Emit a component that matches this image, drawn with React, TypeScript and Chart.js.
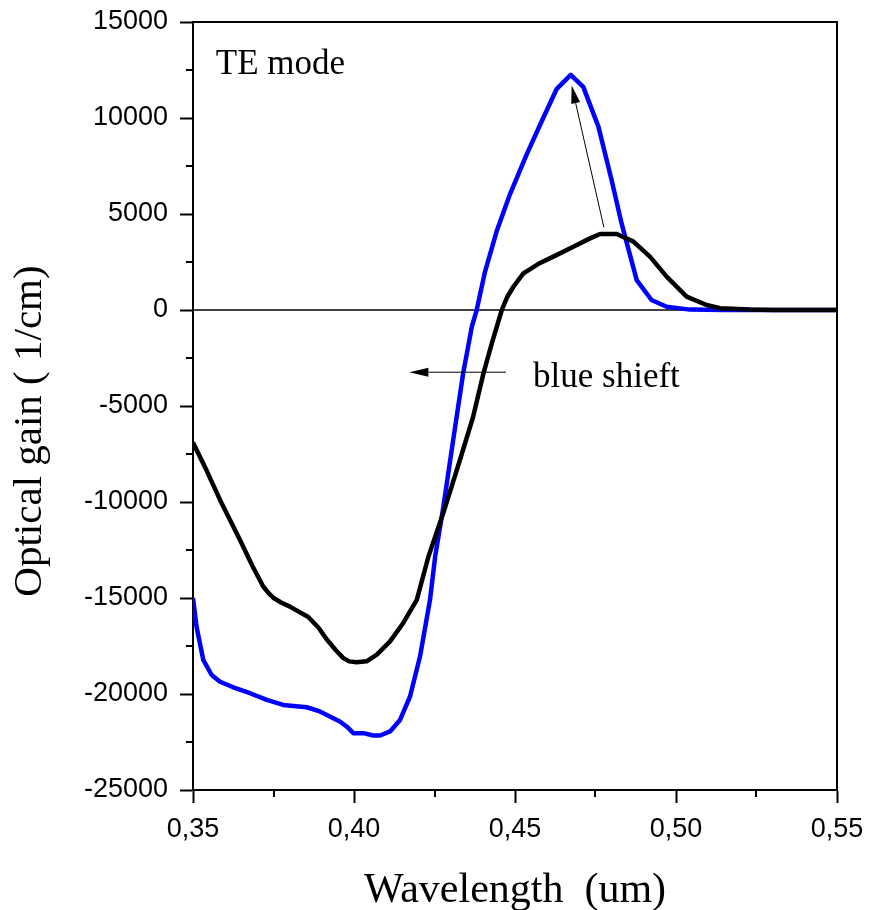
import React, { useEffect, useRef } from "react";
import { Chart, registerables } from "chart.js";

Chart.register(...registerables);

// ---- data ----
const blackX = [
  0.35, 0.3542, 0.3584, 0.3646, 0.3685, 0.3718, 0.3735, 0.375, 0.3775, 0.3801, 0.3858,
  0.389, 0.3915, 0.3945, 0.3967, 0.3985, 0.4008, 0.4039, 0.4071, 0.4112, 0.4153,
  0.4195, 0.4231, 0.4277, 0.4329, 0.437, 0.4402, 0.4428, 0.4459, 0.4475, 0.4495,
  0.4526, 0.4578, 0.4619, 0.4681, 0.4733, 0.4764, 0.4816, 0.4868, 0.4919, 0.4971,
  0.5033, 0.5095, 0.5137, 0.523, 0.53, 0.55,
];
const blackY = [
  -6900, -8350, -9890, -11980, -13350, -14400, -14750, -15000, -15250, -15450, -15990,
  -16550, -17150, -17750, -18130, -18300, -18350, -18300, -17950, -17260, -16300,
  -15100, -12850, -10590, -7810, -5560, -3300, -1740, 0, 650, 1210,
  1910, 2450, 2780, 3300, 3730, 3960, 3960, 3560, 2780, 1740,
  700, 260, 90, 20, 0, 0,
];

const blueX = [
  0.35, 0.3511, 0.3532, 0.3558, 0.3584, 0.3625, 0.3677, 0.3729, 0.378, 0.3853,
  0.3894, 0.3956, 0.3977, 0.3998, 0.4029, 0.406, 0.4081, 0.4112, 0.4143, 0.4174,
  0.4205, 0.4236, 0.4252, 0.4277, 0.4308, 0.4339, 0.4366, 0.4381, 0.4407, 0.4443,
  0.4484, 0.4536, 0.4578, 0.4629, 0.4673, 0.4712, 0.4759, 0.48, 0.4831, 0.4878,
  0.4924, 0.4971, 0.5043, 0.515, 0.55,
];
const blueY = [
  -15000, -16500, -18230, -19010, -19360, -19650, -19960, -20310, -20570, -20690,
  -20910, -21430, -21690, -22040, -22040, -22160, -22160, -21950, -21350, -20130,
  -18050, -15100, -12850, -10300, -6770, -3300, -870, 0, 2000, 4100,
  6010, 8090, 9650, 11500, 12250, 11620, 9550, 6770, 4510, 1560,
  520, 170, 20, 0, 0,
];

const zeroLineX = [0.35, 0.55];
const zeroLineY = [0, 0];

const xMajorTicks = [0.35, 0.4, 0.45, 0.5, 0.55];
const xMinorTicks = [0.375, 0.425, 0.475, 0.525];
const yMajorTicks = [-25000, -20000, -15000, -10000, -5000, 0, 5000, 10000, 15000];
const yMinorTicks = [-22500, -17500, -12500, -7500, -2500, 2500, 7500, 12500];

const xTitle = "Wavelength  (um)";
const yTitle = "Optical gain ( 1/cm)";
const modeLabel = "TE mode";
const modeLabelAt = [0.3571, 12300];
const shiftLabel = "blue shieft";
const shiftLabelAt = [0.4556, -4010];
const peakArrowFrom = [0.4776, 4310];
const peakArrowTo = [0.4676, 11690];
const shiftArrowFrom = [0.4472, -3240];
const shiftArrowTo = [0.4172, -3240];

const SERIF = "'Liberation Serif', 'Times New Roman', serif";
const SANS = "'Liberation Sans', Arial, sans-serif";

function pts(xs: number[], ys: number[]) {
  return xs.map((x, i) => ({ x, y: ys[i] }));
}

function drawArrow(ctx: CanvasRenderingContext2D, x1: number, y1: number, x2: number, y2: number, headLen: number, headW: number) {
  const ang = Math.atan2(y2 - y1, x2 - x1);
  const bx = x2 - headLen * Math.cos(ang);
  const by = y2 - headLen * Math.sin(ang);
  ctx.beginPath();
  ctx.moveTo(x1, y1);
  ctx.lineTo(bx, by);
  ctx.lineWidth = 1;
  ctx.strokeStyle = "#000";
  ctx.stroke();
  ctx.beginPath();
  ctx.moveTo(x2, y2);
  ctx.lineTo(bx + (headW / 2) * Math.sin(ang), by - (headW / 2) * Math.cos(ang));
  ctx.lineTo(bx - (headW / 2) * Math.sin(ang), by + (headW / 2) * Math.cos(ang));
  ctx.closePath();
  ctx.fillStyle = "#000";
  ctx.fill();
}

const decorPlugin = {
  id: "decor",
  afterDraw(chart: any) {
    const { ctx, chartArea: a } = chart;
    const xs = chart.scales.x;
    const ys = chart.scales.y;
    ctx.save();
    // top and right frame
    ctx.strokeStyle = "#000";
    ctx.lineWidth = 2;
    ctx.beginPath();
    ctx.moveTo(a.left - 1, a.top);
    ctx.lineTo(a.right, a.top);
    ctx.lineTo(a.right, a.bottom + 1);
    ctx.stroke();
    // minor ticks
    ctx.beginPath();
    for (const v of yMinorTicks) {
      const py = Math.round(ys.getPixelForValue(v));
      ctx.moveTo(a.left - 7, py);
      ctx.lineTo(a.left, py);
    }
    for (const v of xMinorTicks) {
      const px = Math.round(xs.getPixelForValue(v));
      ctx.moveTo(px, a.bottom);
      ctx.lineTo(px, a.bottom + 7);
    }
    ctx.stroke();

    // annotations
    drawArrow(
      ctx,
      xs.getPixelForValue(peakArrowFrom[0]), ys.getPixelForValue(peakArrowFrom[1]),
      xs.getPixelForValue(peakArrowTo[0]), ys.getPixelForValue(peakArrowTo[1]),
      18, 9
    );
    drawArrow(
      ctx,
      xs.getPixelForValue(shiftArrowFrom[0]), ys.getPixelForValue(shiftArrowFrom[1]),
      xs.getPixelForValue(shiftArrowTo[0]), ys.getPixelForValue(shiftArrowTo[1]),
      19, 9
    );

    ctx.fillStyle = "#000";
    ctx.font = `35px ${SERIF}`;
    ctx.textAlign = "left";
    ctx.textBaseline = "alphabetic";
    ctx.fillText(modeLabel, xs.getPixelForValue(modeLabelAt[0]), ys.getPixelForValue(modeLabelAt[1]));
    ctx.fillText(shiftLabel, xs.getPixelForValue(shiftLabelAt[0]), ys.getPixelForValue(shiftLabelAt[1]));

    // axis titles
    ctx.font = `42px ${SERIF}`;
    ctx.textAlign = "center";
    ctx.fillText(xTitle, (a.left + a.right) / 2, a.bottom + 112);
    ctx.font = `41px ${SERIF}`;
    ctx.save();
    ctx.translate(a.left - 152, (a.top + a.bottom) / 2 + 25);
    ctx.rotate(-Math.PI / 2);
    ctx.fillText(yTitle, 0, 0);
    ctx.restore();
    ctx.restore();
  },
};

export default function App() {
  const ref = useRef<HTMLCanvasElement | null>(null);
  useEffect(() => {
    if (!ref.current) return;
    const chart = new Chart(ref.current, {
      type: "scatter",
      data: {
        datasets: [
          {
            data: pts(blackX, blackY),
            showLine: true,
            borderColor: "#000000",
            borderWidth: 4.5,
            pointRadius: 0,
            tension: 0,
            borderJoinStyle: "round",
          },
          {
            data: pts(blueX, blueY),
            showLine: true,
            borderColor: "#0000ff",
            borderWidth: 4.5,
            pointRadius: 0,
            tension: 0,
            borderJoinStyle: "round",
          },
          {
            data: pts(zeroLineX, zeroLineY),
            showLine: true,
            borderColor: "#000000",
            borderWidth: 1.5,
            pointRadius: 0,
          },
        ],
      },
      options: {
        animation: false,
        responsive: false,
        devicePixelRatio: 1,
        events: [],
        layout: { padding: { left: 0, top: 22, right: 32, bottom: 0 } },
        plugins: { legend: { display: false }, tooltip: { enabled: false }, title: { display: false } },
        scales: {
          x: {
            type: "linear",
            min: 0.35,
            max: 0.55,
            afterFit: (s: any) => { s.height = 120; s.paddingLeft = 0; s.paddingRight = 0; },
            afterBuildTicks: (s: any) => { s.ticks = xMajorTicks.map((v) => ({ value: v })); },
            ticks: {
              autoSkip: false,
              maxRotation: 0,
              padding: 10,
              color: "#000",
              font: { family: SANS, size: 27 },
              callback: (v: any) => Number(v).toFixed(2).replace(".", ","),
            },
            grid: { drawOnChartArea: false, drawTicks: true, tickLength: 13, tickWidth: 2, tickColor: "#000", color: "#000" },
            border: { display: true, color: "#000", width: 2 },
          },
          y: {
            type: "linear",
            min: -25000,
            max: 15000,
            afterFit: (s: any) => { s.width = 193; s.paddingTop = 0; s.paddingBottom = 0; },
            afterBuildTicks: (s: any) => { s.ticks = yMajorTicks.map((v) => ({ value: v })); },
            ticks: {
              autoSkip: false,
              padding: 12,
              color: "#000",
              font: { family: SANS, size: 27 },
              callback: (v: any) => String(v),
            },
            grid: { drawOnChartArea: false, drawTicks: true, tickLength: 13, tickWidth: 2, tickColor: "#000", color: "#000" },
            border: { display: true, color: "#000", width: 2 },
          },
        },
      },
      plugins: [decorPlugin],
    } as any);
    return () => chart.destroy();
  }, []);
  return (
    <div style={{ position: "absolute", left: 0, top: 0, width: 869, height: 910, background: "#fff" }}>
      <canvas ref={ref} width={869} height={910} style={{ display: "block" }} />
    </div>
  );
}
